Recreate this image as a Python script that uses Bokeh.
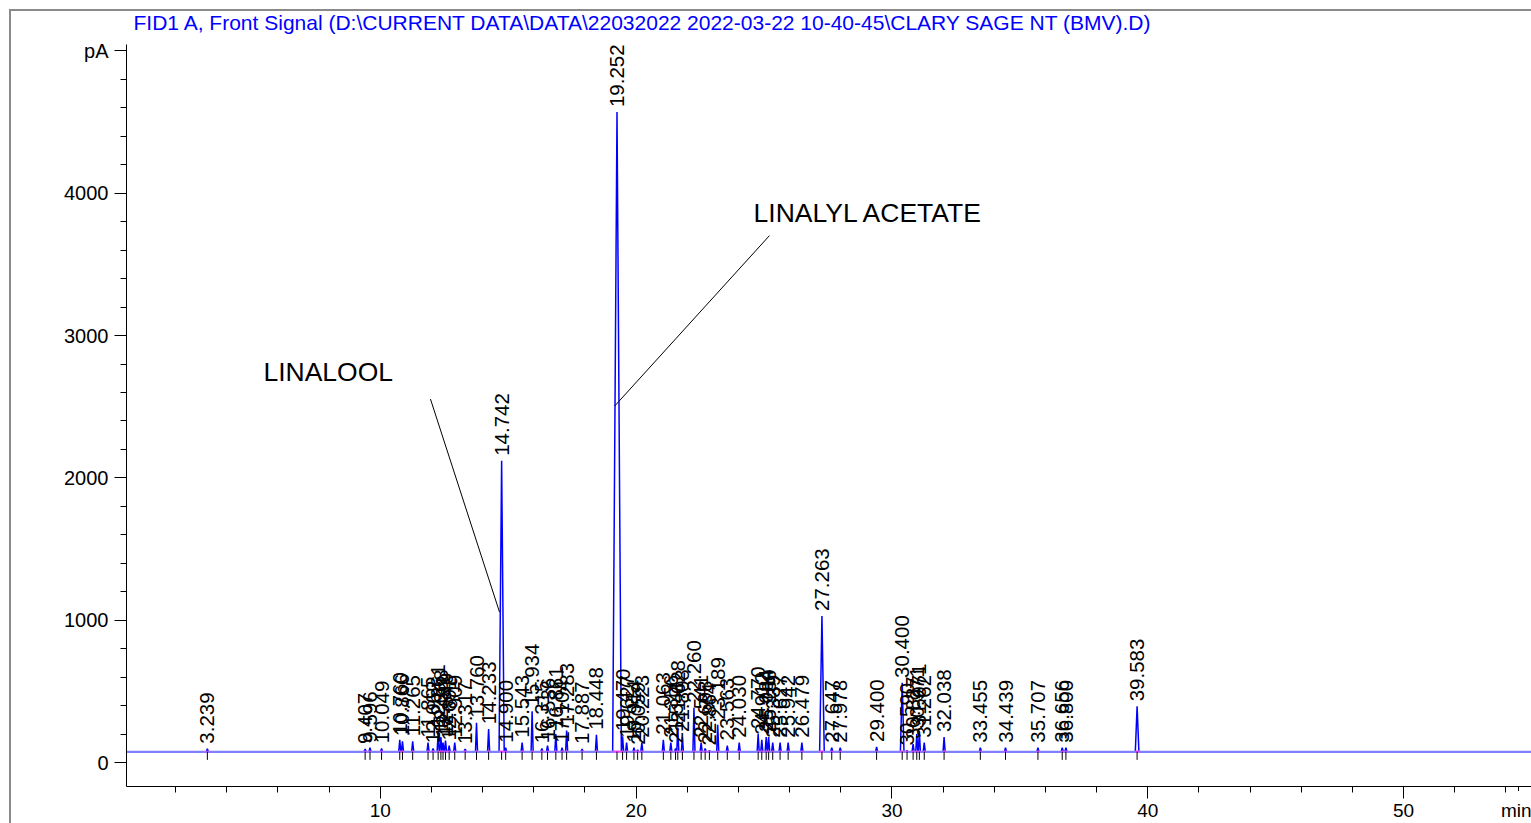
import math
from bokeh.plotting import figure
from bokeh.models import FixedTicker, ColumnDataSource, Range1d, InlineStyleSheet
from bokeh.embed import file_html
from bokeh.resources import INLINE
from bokeh.core.properties import value

# ---------------- data ----------------
title_text = "FID1 A, Front Signal (D:\\CURRENT DATA\\DATA\\22032022 2022-03-22 10-40-45\\CLARY SAGE NT (BMV).D)"

peak_rt = [3.239, 9.407, 9.596, 10.049, 10.760, 10.866, 11.265, 11.865, 12.062, 12.261,
           12.368, 12.451, 12.549, 12.691, 12.909, 13.317, 13.760, 14.233, 14.742, 14.900,
           15.543, 15.934, 16.315, 16.536, 16.861, 17.104, 17.283, 17.887, 18.448, 19.252,
           19.470, 19.627, 19.914, 20.059, 20.223, 21.063, 21.356, 21.541, 21.628, 21.808,
           22.260, 22.541, 22.698, 22.864, 23.189, 23.563, 24.030, 24.770, 24.912, 25.084,
           25.180, 25.339, 25.627, 25.942, 26.479, 27.263, 27.647, 27.978, 29.400, 30.400,
           30.590, 30.827, 30.971, 31.071, 31.262, 32.038, 33.455, 34.439, 35.707, 36.656,
           36.800, 39.583]
peak_height = [98, 95, 105, 100, 160, 150, 150, 140, 100, 215,
               180, 140, 155, 120, 140, 95, 280, 235, 2120, 105,
               140, 360, 100, 120, 200, 105, 225, 95, 195, 4570,
               185, 140, 105, 90, 140, 160, 140, 100, 245, 180,
               385, 140, 100, 85, 265, 120, 140, 200, 160, 180,
               180, 140, 140, 140, 140, 1030, 105, 105, 110, 560,
               85, 130, 200, 220, 140, 180, 105, 105, 105, 105,
               105, 395]
peak_halfwidth = [0.04] * len(peak_rt)
wide_peaks = {14.742: 0.10, 19.252: 0.17, 27.263: 0.09, 30.400: 0.07, 39.583: 0.07}

baseline_level = 77
x_start, x_end = 0.078, 55.0
y_start, y_end = -168, 5045

x_major = [10, 20, 30, 40, 50, 54.5]
x_major_labels = ["10", "20", "30", "40", "50", "min"]
x_minor = [2, 4, 6, 8, 12, 14, 16, 18, 22, 24, 26, 28, 32, 34, 36, 38, 42, 44, 46, 48, 52, 54]
y_major = [0, 1000, 2000, 3000, 4000, 5000]
y_major_labels = ["0", "1000", "2000", "3000", "4000", "pA"]
y_minor = [v for v in range(200, 5000, 200) if v % 1000 != 0]

annot_text = ["LINALOOL", "LINALYL ACETATE"]
annot_x = [5.43, 24.59]
annot_y = [2743, 3863]
leader_x0 = [11.96, 25.21]
leader_y0 = [2554, 3702]
leader_x1 = [14.66, 19.16]
leader_y1 = [1057, 2505]

# ---------------- build trace from peak table ----------------
hw = [wide_peaks.get(rt, h) for rt, h in zip(peak_rt, peak_halfwidth)]
tx = [x_start]
ty = [baseline_level]
for rt, h, w in zip(peak_rt, peak_height, hw):
    tx += [rt - w, rt, rt + w]
    ty += [baseline_level, h, baseline_level]
tx.append(x_end)
ty.append(baseline_level)

FONT = "Liberation Sans"

p = figure(width=1531, height=823, output_backend="svg", toolbar_location=None,
           x_range=Range1d(x_start, x_end), y_range=Range1d(y_start, y_end),
           min_border_left=126, min_border_right=0, min_border_top=44, min_border_bottom=34)
p.border_fill_alpha = 0
p.background_fill_color = "white"
p.outline_line_color = None
p.xgrid.visible = False
p.ygrid.visible = False
p.stylesheets = [InlineStyleSheet(css=(
    ":host::after{content:'';position:absolute;left:9px;top:9px;right:0;bottom:0;"
    "border-left:2px solid #8a8a8a;border-top:2px solid #8a8a8a;pointer-events:none;z-index:10;}"
    ":host::before{content:'';position:absolute;left:1514px;top:791px;width:9px;height:12px;"
    "background:white;pointer-events:none;z-index:10;}"))]

# title
p.title.text = title_text
p.title.text_font = FONT
p.title.text_font_size = "21px"
p.title.text_font_style = "normal"
p.title.text_color = "#0000ff"
p.title.align = "left"
p.title.vertical_align = "top"
p.title.offset = 7
p.title.standoff = 18

# axes
p.xaxis.ticker = FixedTicker(ticks=x_major, minor_ticks=x_minor)
p.xaxis.major_label_overrides = {v: s for v, s in zip(x_major, x_major_labels)}
p.yaxis.ticker = FixedTicker(ticks=y_major, minor_ticks=y_minor)
p.yaxis.major_label_overrides = {v: s for v, s in zip(y_major, y_major_labels)}
for ax in (p.xaxis[0], p.yaxis[0]):
    ax.axis_line_color = "black"
    ax.major_tick_line_color = "black"
    ax.minor_tick_line_color = "black"
    ax.major_tick_in = 0
    ax.minor_tick_in = 0
    ax.minor_tick_out = 6
    ax.major_label_text_font = FONT
    ax.major_label_text_color = "black"
p.xaxis.major_tick_out = 12
p.xaxis.major_label_standoff = 1
p.xaxis.major_label_text_font_size = "19px"
p.yaxis.major_tick_out = 12
p.yaxis.major_label_standoff = 6
p.yaxis.major_label_text_font_size = "20px"

# trace, then integration baseline on top
p.line(tx, ty, line_color="#0000ff", line_width=1.5)
p.line([x_start, x_end], [baseline_level, baseline_level], line_color="#7f7fff", line_width=2)
p.segment(x0=[r - w for r, w in zip(peak_rt, hw)], y0=[baseline_level] * len(peak_rt),
          x1=[r + w for r, w in zip(peak_rt, hw)], y1=[baseline_level] * len(peak_rt),
          line_color="#ff40ff", line_width=2)

# retention time tick marks
p.segment(x0=peak_rt, y0=[baseline_level] * len(peak_rt), x1=peak_rt,
          y1=[baseline_level - 58] * len(peak_rt), line_color="black", line_width=1)

# peak labels
src = ColumnDataSource(dict(x=peak_rt, y=peak_height, t=["%.3f" % r for r in peak_rt]))
p.text(x="x", y="y", text="t", source=src, angle=math.pi / 2, text_align="left",
       text_baseline="middle", y_offset=-5, text_font=value(FONT),
       text_font_size="20.5px", text_color="black")

# annotations
p.segment(x0=leader_x0, y0=leader_y0, x1=leader_x1, y1=leader_y1, line_color="black", line_width=1)
p.text(x=annot_x, y=annot_y, text=annot_text, text_align="left", text_baseline="middle",
       text_font=value(FONT), text_font_size="26.5px", text_color="black")

open("out.html", "w").write(file_html(p, INLINE))
